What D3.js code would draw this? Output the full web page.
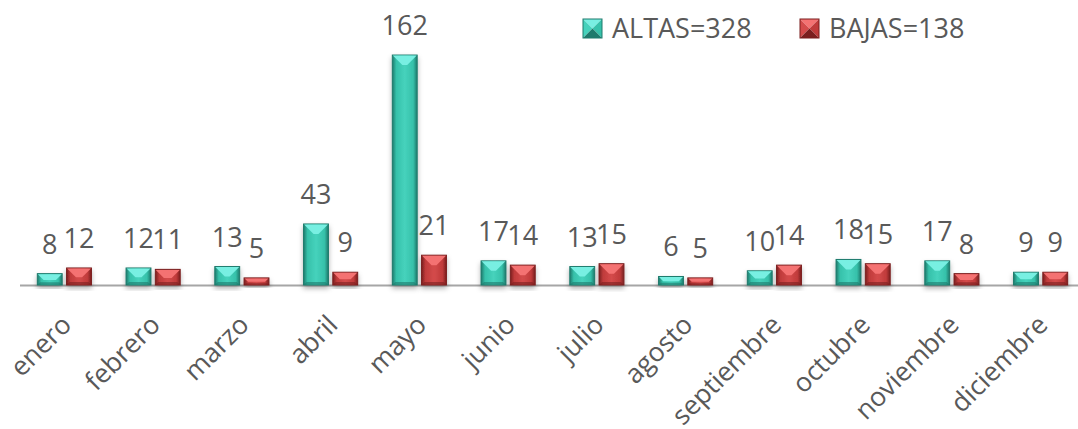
<!DOCTYPE html>
<html>
<head>
<meta charset="utf-8">
<script src="https://cdn.jsdelivr.net/npm/d3@7"></script>
<style>
  body { margin: 0; background: #fff; }
  svg { display: block; }
  text { font-family: "Open Sans", sans-serif; fill: #595959; }
</style>
</head>
<body>
<svg id="chart" width="1078" height="429"></svg>
<script>
// Data
const months = ["enero", "febrero", "marzo", "abril", "mayo", "junio", "julio",
                "agosto", "septiembre", "octubre", "noviembre", "diciembre"];
const altas = [8, 12, 13, 43, 162, 17, 13, 6, 10, 18, 17, 9];
const bajas = [12, 11, 5, 9, 21, 14, 15, 5, 14, 15, 8, 9];
const seriesNames = ["ALTAS", "BAJAS"];

// Colours for each series: body, light top bevel, dark edge
const palette = {
    ALTAS: { body: "#36c1aa", mid: "#46d2bc", top: "#78efe2", edge: "#1e7a6c" },
    BAJAS: { body: "#c03b3b", mid: "#d44b4b", top: "#f47272", edge: "#7a1f1f" }
};

const svg = d3.select("#chart");
const defs = svg.append("defs");

// soft shadow under bars
const shadow = defs.append("filter").attr("id", "shadow")
    .attr("x", "-30%").attr("y", "-30%").attr("width", "160%").attr("height", "160%");
shadow.append("feDropShadow")
    .attr("dx", 0).attr("dy", 3).attr("stdDeviation", 2.5)
    .attr("flood-color", "#000").attr("flood-opacity", 0.3);

// horizontal gradient for each bar body
seriesNames.forEach(s => {
    const g = defs.append("linearGradient").attr("id", "grad-" + s)
        .attr("x1", "0%").attr("x2", "100%").attr("y1", "0%").attr("y2", "0%");
    g.append("stop").attr("offset", "0%").attr("stop-color", palette[s].edge);
    g.append("stop").attr("offset", "16%").attr("stop-color", palette[s].body);
    g.append("stop").attr("offset", "50%").attr("stop-color", palette[s].mid);
    g.append("stop").attr("offset", "84%").attr("stop-color", palette[s].body);
    g.append("stop").attr("offset", "100%").attr("stop-color", palette[s].edge);
});

const baseY = 285;

const x0 = d3.scaleBand()
    .domain(months)
    .range([20, 1085])
    .paddingInner(0.39)
    .paddingOuter(0.195);

const x1 = d3.scaleBand()
    .domain(seriesNames)
    .range([0, x0.bandwidth()])
    .paddingInner(0.15);

const y = d3.scaleLinear()
    .domain([0, 180])
    .range([baseY, 29.5]);

const table = months.map((m, i) => ({
    month: m,
    values: [
        { series: "ALTAS", value: altas[i] },
        { series: "BAJAS", value: bajas[i] }
    ]
}));

// Axis (line only, labels rotated)
const axis = svg.append("g")
    .attr("transform", `translate(0,${baseY})`)
    .call(d3.axisBottom(x0).tickSize(0).tickSizeOuter(0));
axis.select(".domain")
    .attr("d", `M20,0.5H1078`)
    .attr("stroke", "#a6a6a6")
    .attr("stroke-width", 2);
axis.selectAll(".tick text")
    .attr("y", 0)
    .attr("x", 0)
    .attr("dy", "0.35em")
    .attr("transform", "translate(2,35) rotate(-45)")
    .attr("text-anchor", "end")
    .attr("font-size", 26.5)
    .style("font-family", "'Open Sans', sans-serif")
    .attr("fill", "#595959");

// Bars
const groups = svg.append("g")
    .selectAll("g")
    .data(table)
    .enter()
    .append("g")
    .attr("transform", d => `translate(${x0(d.month)},0)`);

const bars = groups.selectAll("g.bar")
    .data(d => d.values)
    .enter()
    .append("g")
    .attr("class", "bar");

bars.append("rect")
    .attr("x", d => x1(d.series))
    .attr("y", d => y(d.value))
    .attr("width", x1.bandwidth())
    .attr("height", d => baseY - y(d.value))
    .attr("fill", d => `url(#grad-${d.series})`)
    .attr("stroke", d => palette[d.series].edge)
    .attr("stroke-width", 1)
    .attr("filter", "url(#shadow)");

// top bevel
bars.append("polygon")
    .attr("points", d => {
        const xl = x1(d.series), w = x1.bandwidth();
        const yt = y(d.value), h = baseY - yt;
        const b = Math.min(10, h * 0.55);
        return [[xl + 0.5, yt + 0.5], [xl + w - 0.5, yt + 0.5],
                [xl + w - b, yt + b], [xl + b, yt + b]].join(" ");
    })
    .attr("fill", d => palette[d.series].top);

// bottom bevel shade
bars.append("polygon")
    .attr("points", d => {
        const xl = x1(d.series), w = x1.bandwidth();
        const yt = y(d.value), h = baseY - yt;
        const b = Math.min(3, h * 0.25);
        return [[xl + 0.5, baseY - 0.5], [xl + w - 0.5, baseY - 0.5],
                [xl + w - b, baseY - b], [xl + b, baseY - b]].join(" ");
    })
    .attr("fill", d => palette[d.series].edge)
    .attr("opacity", 0.6);

// value labels
bars.append("text")
    .attr("x", d => x1(d.series) + x1.bandwidth() / 2)
    .attr("y", d => y(d.value) - 20)
    .attr("text-anchor", "middle")
    .attr("font-size", 27)
    .text(d => d.value);

// Legend
const totals = { ALTAS: d3.sum(altas), BAJAS: d3.sum(bajas) };
const legendPos = [{ series: "ALTAS", x: 583 }, { series: "BAJAS", x: 800 }];
const legend = svg.append("g")
    .selectAll("g")
    .data(legendPos)
    .enter()
    .append("g")
    .attr("transform", d => `translate(${d.x},19)`);

const m = 19;
legend.append("polygon").attr("points", `0,0 ${m},0 ${m / 2},${m / 2}`)
    .attr("fill", d => palette[d.series].top);
legend.append("polygon").attr("points", `0,0 ${m / 2},${m / 2} 0,${m}`)
    .attr("fill", d => palette[d.series].mid);
legend.append("polygon").attr("points", `${m},0 ${m},${m} ${m / 2},${m / 2}`)
    .attr("fill", d => palette[d.series].body);
legend.append("polygon").attr("points", `0,${m} ${m / 2},${m / 2} ${m},${m}`)
    .attr("fill", d => palette[d.series].edge);
legend.append("rect")
    .attr("width", m).attr("height", m)
    .attr("fill", "none")
    .attr("stroke", d => palette[d.series].edge)
    .attr("stroke-width", 1);
legend.append("text")
    .attr("x", 29)
    .attr("y", 19)
    .attr("font-size", 27)
    .text(d => `${d.series}=${totals[d.series]}`);
</script>
</body>
</html>
